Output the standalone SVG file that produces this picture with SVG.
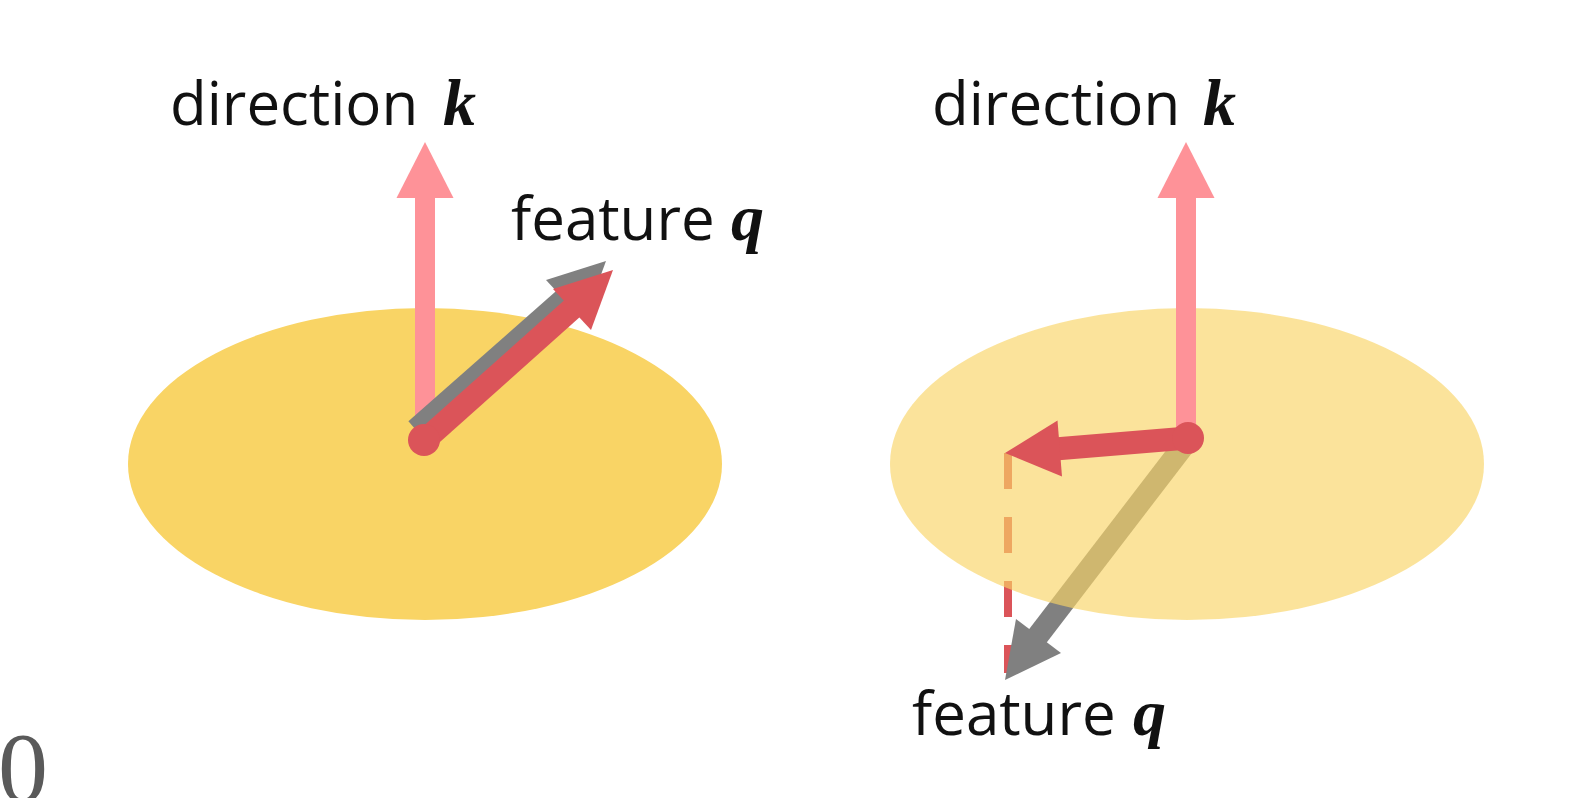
<svg xmlns="http://www.w3.org/2000/svg" width="1573" height="798" viewBox="0 0 1573 798">
<style>
.lbl{font-family:"Open Sans","Liberation Sans",sans-serif;font-size:60px;fill:#111}
.var{font-family:"Liberation Serif","DejaVu Serif",serif;font-size:66px;font-weight:bold;font-style:italic;fill:#111}
.pink{fill:#FE9298}
.red{fill:#DB5459}
.gray{fill:#808080}
.disk{fill:#F9D465}
</style>
<rect width="1573" height="798" fill="#ffffff"/>
<text x="-2" y="801" font-family="Liberation Serif,serif" font-size="100" fill="#5a5a5a">0</text>

<g id="left-plane">
<ellipse class="disk" cx="425" cy="464" rx="297" ry="156"/>
</g>

<g id="connectors">
<g id="left-k-arrow">
<rect class="pink" x="415" y="196" width="20" height="244"/>
<polygon class="pink" points="425,142 453.5,198 396.5,198"/>
</g>
<g id="left-q-gray">
<line x1="416" y1="430" x2="568" y2="296" stroke="#808080" stroke-width="23"/>
<polygon class="gray" points="606,261 546,280 584,321"/>
</g>
<g id="left-q-red">
<line x1="425" y1="440" x2="575" y2="306" stroke="#DB5459" stroke-width="23"/>
<polygon class="red" points="613,270 553,289 591,330"/>
<circle class="red" cx="424" cy="440" r="16"/>
</g>
</g>

<g id="right-under">
<line x1="1008" y1="453" x2="1008" y2="673" stroke="#DB5459" stroke-width="8" stroke-dasharray="36 28"/>
<line x1="1188" y1="440" x2="1037" y2="637" stroke="#808080" stroke-width="22"/>
<polygon class="gray" points="1005,680 1016,619 1061,653"/>
</g>

<g id="right-plane">
<ellipse class="disk" cx="1187" cy="464" rx="297" ry="156" fill-opacity="0.65"/>
</g>

<g id="right-over">
<rect class="pink" x="1176" y="196" width="20" height="244"/>
<polygon class="pink" points="1186,142 1214.5,198 1157.5,198"/>
<line x1="1188" y1="438" x2="1055" y2="449" stroke="#DB5459" stroke-width="23"/>
<polygon class="red" points="1005,453 1057.5,420.6 1062,476.4"/>
<circle class="red" cx="1188" cy="438" r="16"/>
</g>

<g id="labels">
<g id="label-left-k"><text class="lbl" x="170" y="125">direction</text><text class="var" x="443" y="125">k</text></g>
<g id="label-left-q"><text class="lbl" x="511" y="240">feature</text><text class="var" x="731" y="240">q</text></g>
<g id="label-right-k"><text class="lbl" x="932" y="125">direction</text><text class="var" x="1203" y="125">k</text></g>
<g id="label-right-q"><text class="lbl" x="912" y="735">feature</text><text class="var" x="1133" y="735">q</text></g>
</g>
</svg>
